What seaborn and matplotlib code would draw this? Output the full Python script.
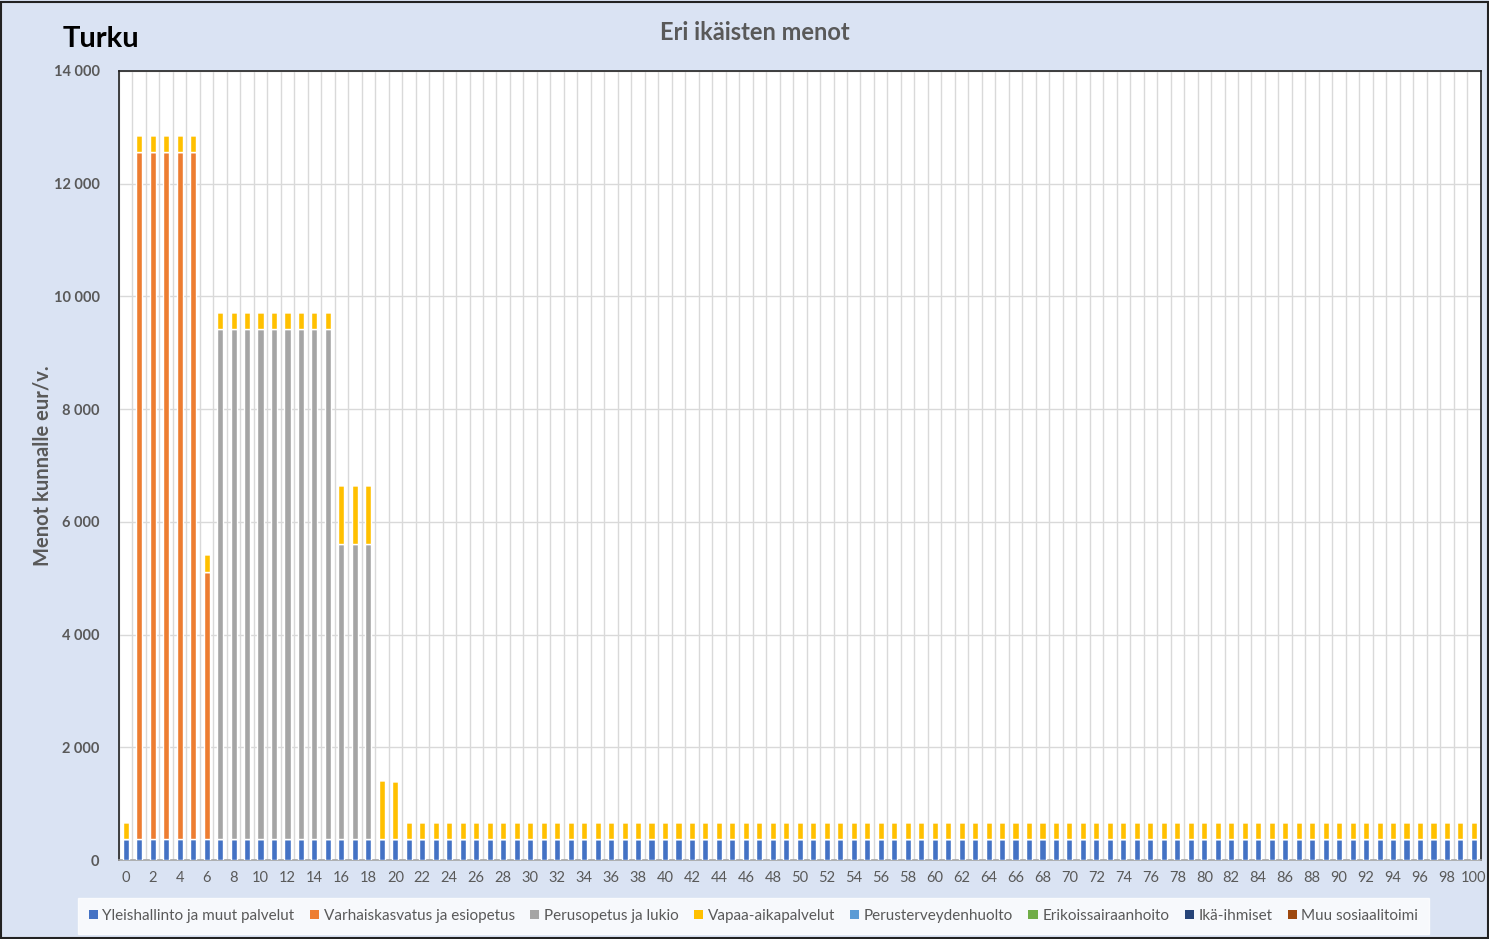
import numpy as np
import pandas as pd
import matplotlib
matplotlib.use('Agg')
import matplotlib.pyplot as plt
from matplotlib.patches import Patch, Rectangle
from matplotlib.ticker import FuncFormatter, MultipleLocator
import seaborn as sns

# Tiedot (eur/v. per ikä)
ika = list(range(0, 101))
yleishallinto = [367] * 101
varhaiskasvatus = [0] + [12200] * 5 + [4750] + [0] * 94
perusopetus = [0] * 7 + [9055] * 9 + [5240] * 3 + [0] * 82
vapaa_aika = [305] + [300] * 5 + [310] + [300] * 9 + [1047] * 3 + [1047, 1040] + [305] * 80
perusterveys = [0] * 101
erikoissairaanhoito = [0] * 101
ika_ihmiset = [0] * 101
muu_sosiaali = [0] * 101

sarjat = ['Yleishallinto ja muut palvelut', 'Varhaiskasvatus ja esiopetus', 'Perusopetus ja lukio',
          'Vapaa-aikapalvelut', 'Perusterveydenhuolto', 'Erikoissairaanhoito', 'Ikä-ihmiset',
          'Muu sosiaalitoimi']
arvot = [yleishallinto, varhaiskasvatus, perusopetus, vapaa_aika, perusterveys,
         erikoissairaanhoito, ika_ihmiset, muu_sosiaali]
varit = ['#4472C4', '#ED7D31', '#A5A5A5', '#FFC000', '#5B9BD5', '#70AD47', '#264478', '#9E480E']

df = pd.DataFrame({'ika': ika})
for nimi, v in zip(sarjat, arvot):
    df[nimi] = v

sns.set_style('white')
plt.rcParams['font.family'] = ['Lato', 'DejaVu Sans']

bg = '#DAE3F3'
harmaa = '#595959'
fig = plt.figure(figsize=(14.89, 9.39), dpi=100, facecolor=bg)
ax = fig.add_axes([0.0799, 0.0841, 0.9145, 0.8403])
ax.set_facecolor('white')

pohja = np.zeros(len(df))
for nimi, vari in zip(sarjat, varit):
    sns.barplot(data=df, x='ika', y=nimi, color=vari, bottom=pohja, width=0.45,
                saturation=1, errorbar=None, ax=ax, zorder=3)
    pohja = pohja + df[nimi].values

ax.set_xlim(-0.5, 100.5)
ax.set_ylim(0, 14000)
ax.yaxis.set_major_locator(MultipleLocator(2000))
ax.yaxis.set_major_formatter(FuncFormatter(lambda v, p: f'{int(v):,}'.replace(',', ' ')))
ax.set_xticks(range(0, 101, 2))
ax.set_xticklabels([str(i) for i in range(0, 101, 2)])
ax.set_xticks(np.arange(-0.5, 101, 1), minor=True)

ax.grid(axis='y', which='major', color='#D9D9D9', linewidth=1, zorder=0)
ax.grid(axis='x', which='minor', color='#D9D9D9', linewidth=1, zorder=0)
ax.grid(axis='x', which='major', visible=False)
ax.set_axisbelow(True)

ax.tick_params(axis='x', which='both', length=0, labelsize=10.5, labelcolor=harmaa, pad=8)
ax.tick_params(axis='y', length=0, labelsize=10.5, labelcolor=harmaa, pad=14)
for lab in ax.get_yticklabels():
    lab.set_fontweight('bold')

for s in ['left', 'top', 'right']:
    ax.spines[s].set_color('#222222')
    ax.spines[s].set_linewidth(1.2)
ax.spines['bottom'].set_color('#A6A6A6')
ax.spines['bottom'].set_linewidth(1.2)

ax.set_xlabel('')
ax.set_ylabel('Menot kunnalle eur/v.', fontsize=14.5, fontweight='bold', color=harmaa, labelpad=1)

fig.text(0.042, 0.958, 'Turku', fontsize=21, fontweight='bold', color='black', va='center', ha='left')
fig.text(0.507, 0.965, 'Eri ikäisten menot', fontsize=17, fontweight='bold', color=harmaa,
         va='center', ha='center')

kahvat = [Patch(facecolor=c, edgecolor='none') for c in varit]
leg = fig.legend(kahvat, sarjat, loc='center', bbox_to_anchor=(0.506, 0.0245), ncol=8,
                 frameon=True, fontsize=11, handlelength=0.6, handleheight=0.6,
                 handletextpad=0.3, columnspacing=1.0, borderpad=0.4)
leg.get_frame().set_facecolor('white')
leg.get_frame().set_edgecolor('white')
leg.get_frame().set_boxstyle('square', pad=0.3)
for t in leg.get_texts():
    t.set_color(harmaa)

fig.patches.append(Rectangle((0.001, 0.001), 0.998, 0.997, transform=fig.transFigure,
                             fill=False, edgecolor='#222222', linewidth=1.5))

plt.savefig('out.png', dpi=100, facecolor=bg)
